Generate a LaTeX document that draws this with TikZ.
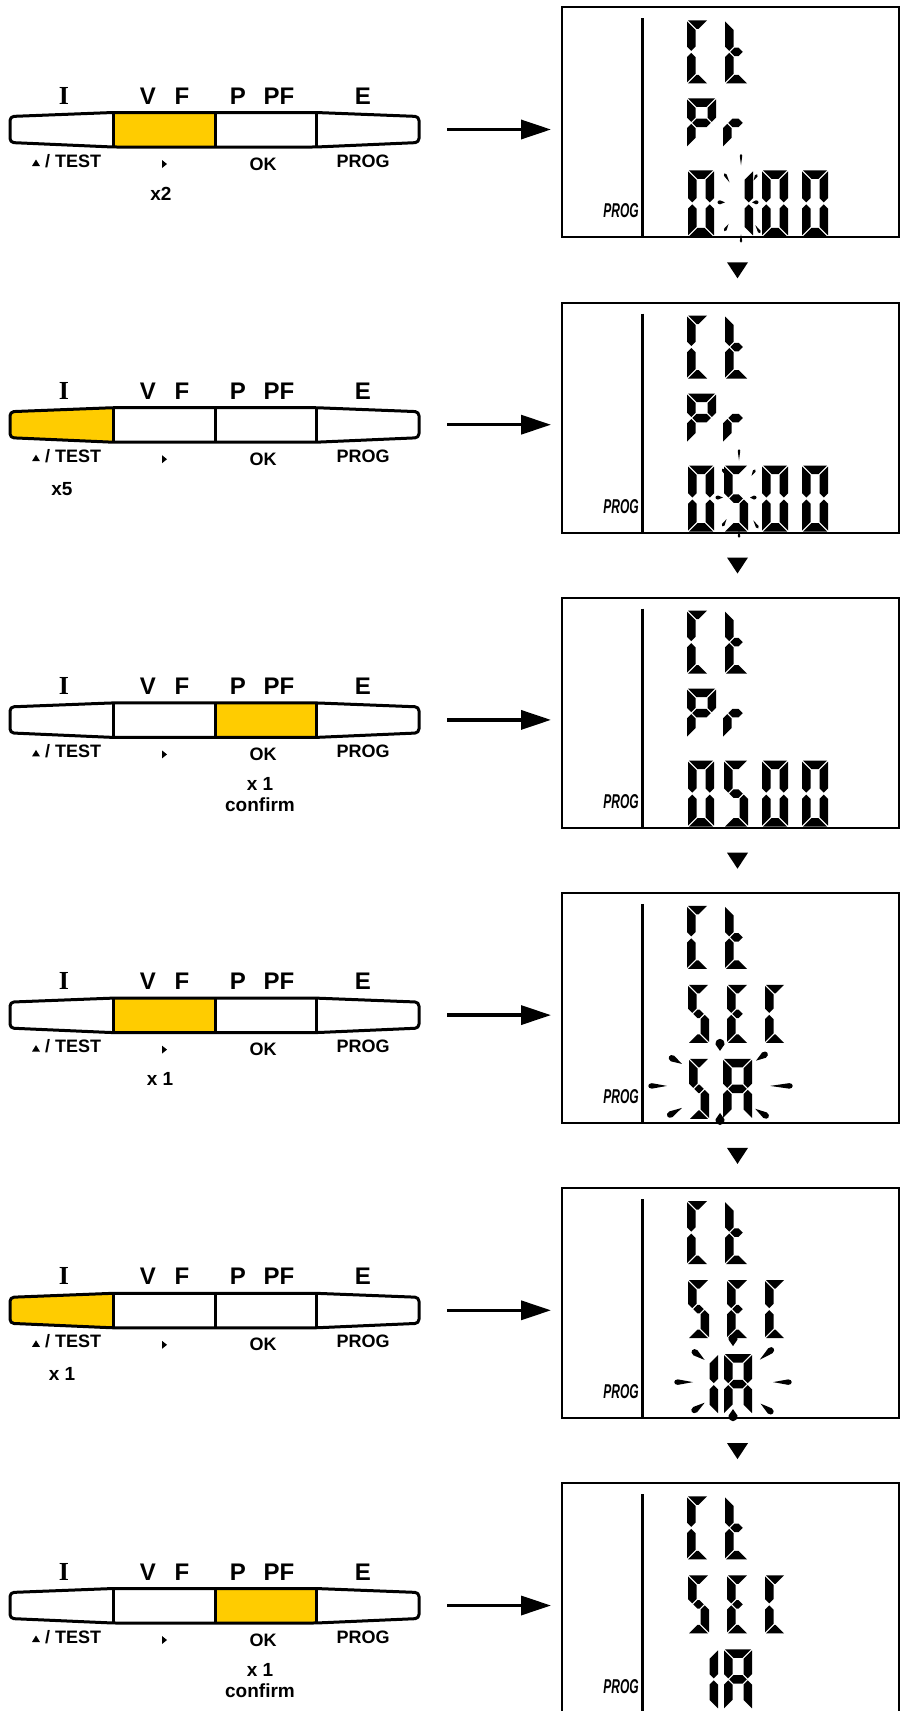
\documentclass[tikz,border=0pt]{standalone}
\usepackage{graphicx}
\usepackage{fontspec}
\setmainfont{Liberation Sans}
\newfontfamily\serifI{Liberation Serif}
\usetikzlibrary{arrows.meta}
\definecolor{keyyellow}{RGB}{255,204,0}
\newcommand\LCDT{8.5}
\newcommand\LCDG{1.0}
\newcommand\LCDa{\fill ({\LX+\LCDG},{\LY}) -- ({\LX+\LW-\LCDG},{\LY}) -- ({\LX+\LW-\LCDT-\LCDG},{\LY+\LCDT}) -- ({\LX+\LCDT+\LCDG},{\LY+\LCDT}) -- cycle;}
\newcommand\LCDd{\fill ({\LX+\LCDG},{\LY+\LH}) -- ({\LX+\LW-\LCDG},{\LY+\LH}) -- ({\LX+\LW-\LCDT-\LCDG},{\LY+\LH-\LCDT}) -- ({\LX+\LCDT+\LCDG},{\LY+\LH-\LCDT}) -- cycle;}
\newcommand\LCDf{\fill ({\LX},{\LY+\LCDG}) -- ({\LX+\LCDT},{\LY+\LCDT+\LCDG}) -- ({\LX+\LCDT},{\LY+\LH/2-\LCDT/2-\LCDG}) -- ({\LX+\LCDT/2},{\LY+\LH/2-\LCDG}) -- ({\LX},{\LY+\LH/2-\LCDT/2-\LCDG}) -- cycle;}
\newcommand\LCDb{\fill ({\LX+\LW},{\LY+\LCDG}) -- ({\LX+\LW-\LCDT},{\LY+\LCDT+\LCDG}) -- ({\LX+\LW-\LCDT},{\LY+\LH/2-\LCDT/2-\LCDG}) -- ({\LX+\LW-\LCDT/2},{\LY+\LH/2-\LCDG}) -- ({\LX+\LW},{\LY+\LH/2-\LCDT/2-\LCDG}) -- cycle;}
\newcommand\LCDe{\fill ({\LX},{\LY+\LH-\LCDG}) -- ({\LX+\LCDT},{\LY+\LH-\LCDT-\LCDG}) -- ({\LX+\LCDT},{\LY+\LH/2+\LCDT/2+\LCDG}) -- ({\LX+\LCDT/2},{\LY+\LH/2+\LCDG}) -- ({\LX},{\LY+\LH/2+\LCDT/2+\LCDG}) -- cycle;}
\newcommand\LCDc{\fill ({\LX+\LW},{\LY+\LH-\LCDG}) -- ({\LX+\LW-\LCDT},{\LY+\LH-\LCDT-\LCDG}) -- ({\LX+\LW-\LCDT},{\LY+\LH/2+\LCDT/2+\LCDG}) -- ({\LX+\LW-\LCDT/2},{\LY+\LH/2+\LCDG}) -- ({\LX+\LW},{\LY+\LH/2+\LCDT/2+\LCDG}) -- cycle;}
\newcommand\LCDg{\fill ({\LX+\LCDT/2+\LCDG},{\LY+\LH/2}) -- ({\LX+\LCDT+\LCDG},{\LY+\LH/2-\LCDT/2}) -- ({\LX+\LW-\LCDT-\LCDG},{\LY+\LH/2-\LCDT/2}) -- ({\LX+\LW-\LCDT/2-\LCDG},{\LY+\LH/2}) -- ({\LX+\LW-\LCDT-\LCDG},{\LY+\LH/2+\LCDT/2}) -- ({\LX+\LCDT+\LCDG},{\LY+\LH/2+\LCDT/2}) -- cycle;}
\newcommand\Dig[5]{\def\LX{#1}\def\LY{#2}\def\LW{#3}\def\LH{#4}\foreach \sg in {#5}{\csname LCD\sg\endcsname}}
\newcommand\Ray[6]{\fill[shift={(#1,#2)},rotate=#3] (#4,0) -- ({#5-#6/2},{#6/2}) .. controls ({#5+#6/3},{#6/2}) and ({#5+#6/3},{-#6/2}) .. ({#5-#6/2},{-#6/2}) -- cycle;}
\begin{document}
\begin{tikzpicture}[x=1pt,y=-1pt,
  kpnode/.style={minimum width=409pt, minimum height=35pt, inner sep=0pt, outer sep=0pt},
  dispbox/.style={draw, line width=2pt, minimum width=337pt, minimum height=230pt, inner sep=0pt, outer sep=0pt},
  barline/.style={line width=3pt, line join=round},
  toplbl/.style={anchor=base, inner sep=0pt, font=\fontsize{24}{26}\selectfont\bfseries},
  botlbl/.style={anchor=base, inner sep=0pt, font=\fontsize{18}{20}\selectfont\bfseries},
  captxt/.style={anchor=base, inner sep=0pt, font=\fontsize{19}{22}\selectfont\bfseries},
  proglbl/.style={anchor=base east, inner sep=0pt, font=\fontsize{20}{22}\selectfont\bfseries\itshape},
  harrow/.style={line width=3.5pt, -{Triangle[length=30pt,width=19pt]}, shorten <=28pt, shorten >=11pt}]
\useasboundingbox (0,0) rectangle (900,1711);
\fill[white] (0,0) rectangle (900,1711);
% keypads
\foreach \rw/\xl/\xr/\capx/\capt in {0/113/215/161/x2, 1/10/113/62/x5, 2/215/316/260/x 1, 3/113/215/160/x 1, 4/10/113/62/x 1, 5/215/316/260/x 1}{
  \pgfmathsetmacro\cy{129.5+295.2*\rw}
  \node[kpnode] (kp\rw) at (214.5,\cy) {};
  \begin{scope}
    \clip[rounded corners=4pt] (10,\cy-13) -- (113,\cy-17) -- (316,\cy-17) -- (419,\cy-13) -- (419,\cy+13) -- (316,\cy+17.5) -- (113,\cy+17.5) -- (10,\cy+13) -- cycle;
    \fill[keyyellow] (\xl,\cy-20) rectangle (\xr,\cy+20);
  \end{scope}
  \draw[barline, rounded corners=4pt] (10,\cy-13) -- (113,\cy-17) -- (316,\cy-17) -- (419,\cy-13) -- (419,\cy+13) -- (316,\cy+17.5) -- (113,\cy+17.5) -- (10,\cy+13) -- cycle;
  \draw[barline] (113,\cy-17) -- (113,\cy+17.5) (215,\cy-17) -- (215,\cy+17.5) (316,\cy-17) -- (316,\cy+17.5);
  \node[toplbl] (lI\rw) at (64,\cy-25.5) {\fontsize{26}{28}\selectfont\serifI\bfseries I};
  \node[toplbl] (lV\rw) at (148,\cy-25.5) {V};
  \node[toplbl] (lF\rw) at (182,\cy-25.5) {F};
  \node[toplbl] (lP\rw) at (238,\cy-25.5) {P};
  \node[toplbl] (lPF\rw) at (279,\cy-25.5) {PF};
  \node[toplbl] (lE\rw) at (363,\cy-25.5) {E};
  \fill (32,\cy+36.5) -- (40,\cy+36.5) -- (36,\cy+30) -- cycle;
  \node[botlbl, anchor=base west] (lT\rw) at (45,\cy+37.5) {/ TEST};
  \fill (162,\cy+30.5) -- (162,\cy+38.5) -- (167,\cy+34.5) -- cycle;
  \node[botlbl] (lOK\rw) at (263,\cy+40.5) {OK};
  \node[botlbl] (lPR\rw) at (363,\cy+37.5) {PROG};
  \node[captxt] (cap\rw) at (\capx,\cy+70.5) {\capt};
}
\node[captxt] (conf2) at (260,811.9) {confirm};
\node[captxt] (conf5) at (260,1697.5) {confirm};
% displays
\foreach \rw in {0,...,5}{
  \pgfmathsetmacro\tp{7.3+295.2*\rw}
  \node[dispbox] (d\rw) at (730.5,\tp+115) {};
  \draw[line width=3pt] (642,\tp+11) -- (642,\tp+230);
  \node[proglbl] (pg\rw) at (639,\tp+210.5) {\scalebox{0.6}[1]{PROG}};
  \draw[harrow] (kp\rw.east) -- (kp\rw.east -| d\rw.west);
  \Dig{687}{\tp+13}{21}{63}{a,f,e,d}
  \Dig{725}{\tp+13}{23}{63}{f,g,e,d}
}
\foreach \rw in {0,...,4}{
  \pgfmathsetmacro\tp{7.3+295.2*\rw}
  \fill (727,\tp+255) -- (748,\tp+255) -- (737.5,\tp+271) -- cycle;
}
% display 1
\pgfmathsetmacro\tp{7.3}
\Dig{687}{\tp+91}{29}{49}{a,b,f,g,e}
\Dig{723}{\tp+91}{25}{49}{e,g}
\Dig{688}{\tp+163}{26}{66}{a,b,c,d,e,f}
\Dig{727}{\tp+163}{26}{66}{b,c}
\Dig{762}{\tp+163}{26}{66}{a,b,c,d,e,f}
\Dig{802}{\tp+163}{26}{66}{a,b,c,d,e,f}
\foreach \an/\ra/\rb/\wd in {90/37/48/2.5, 270/32/40/2.5, 180/16/23/4, 120/23/33/3, 240/25/33/3, 0/11/17/4, -58/27/36/3, 60/25/32/3}{\Ray{741}{\tp+195}{\an}{\ra}{\rb}{\wd}}
% display 2
\pgfmathsetmacro\tp{7.3+295.2}
\Dig{687}{\tp+91}{29}{49}{a,b,f,g,e}
\Dig{723}{\tp+91}{25}{49}{e,g}
\Dig{688}{\tp+163}{26}{66}{a,b,c,d,e,f}
\Dig{724}{\tp+163}{24}{66}{a,f,g,c,d}
\Dig{762}{\tp+163}{26}{66}{a,b,c,d,e,f}
\Dig{802}{\tp+163}{26}{66}{a,b,c,d,e,f}
\foreach \an/\ra/\rb/\wd in {90/37/48/2.5, 270/32/40/2.5, 180/16/23/4, 120/23/33/3, 240/25/33/3, 0/11/17/4, -58/27/36/3, 60/25/32/3}{\Ray{739}{\tp+195}{\an}{\ra}{\rb}{\wd}}
% display 3
\pgfmathsetmacro\tp{7.3+2*295.2}
\Dig{687}{\tp+91}{29}{49}{a,b,f,g,e}
\Dig{723}{\tp+91}{25}{49}{e,g}
\Dig{688}{\tp+163}{26}{66}{a,b,c,d,e,f}
\Dig{724}{\tp+163}{24}{66}{a,f,g,c,d}
\Dig{762}{\tp+163}{26}{66}{a,b,c,d,e,f}
\Dig{802}{\tp+163}{26}{66}{a,b,c,d,e,f}
% displays 4-6 SEC
\foreach \rw in {3,4,5}{
  \pgfmathsetmacro\tp{7.3+295.2*\rw}
  \Dig{688}{\tp+92}{21}{58}{a,f,g,c,d}
  \Dig{727}{\tp+92}{21}{58}{a,f,g,e,d}
  \Dig{765}{\tp+92}{20}{58}{a,f,e,d}
}
% display 4
\pgfmathsetmacro\tp{7.3+3*295.2}
\Dig{689}{\tp+166}{20}{60}{a,f,g,c,d}
\Dig{723}{\tp+166}{29}{60}{a,b,c,e,f,g}
\foreach \an/\ra/\rb/\wd in {180/53/71/5.5, 150/44/58/6.5, 210/44/60/6.5, 35/44/57/6.5, 0/50/72/5.5, -33/42/57/6.5, 90/35/46/9, 270/27/38/9}{\Ray{720}{\tp+193}{\an}{\ra}{\rb}{\wd}}
% display 5
\pgfmathsetmacro\tp{7.3+4*295.2}
\Dig{690}{\tp+166}{28}{60}{b,c}
\Dig{724}{\tp+166}{28}{60}{a,b,c,e,f,g}
\foreach \an/\ra/\rb/\wd in {180/40/58/5.5, 0/40/58/5.5, 142/36/51/6.5, 216/35/50/6.5, 40/35/52/6.5, -38/35/50/6.5, 90/36/47/9, 270/27/38/9}{\Ray{733}{\tp+194}{\an}{\ra}{\rb}{\wd}}
% display 6
\pgfmathsetmacro\tp{7.3+5*295.2}
\Dig{690}{\tp+166}{28}{60}{b,c}
\Dig{724}{\tp+166}{28}{60}{a,b,c,e,f,g}
\end{tikzpicture}
\end{document}
